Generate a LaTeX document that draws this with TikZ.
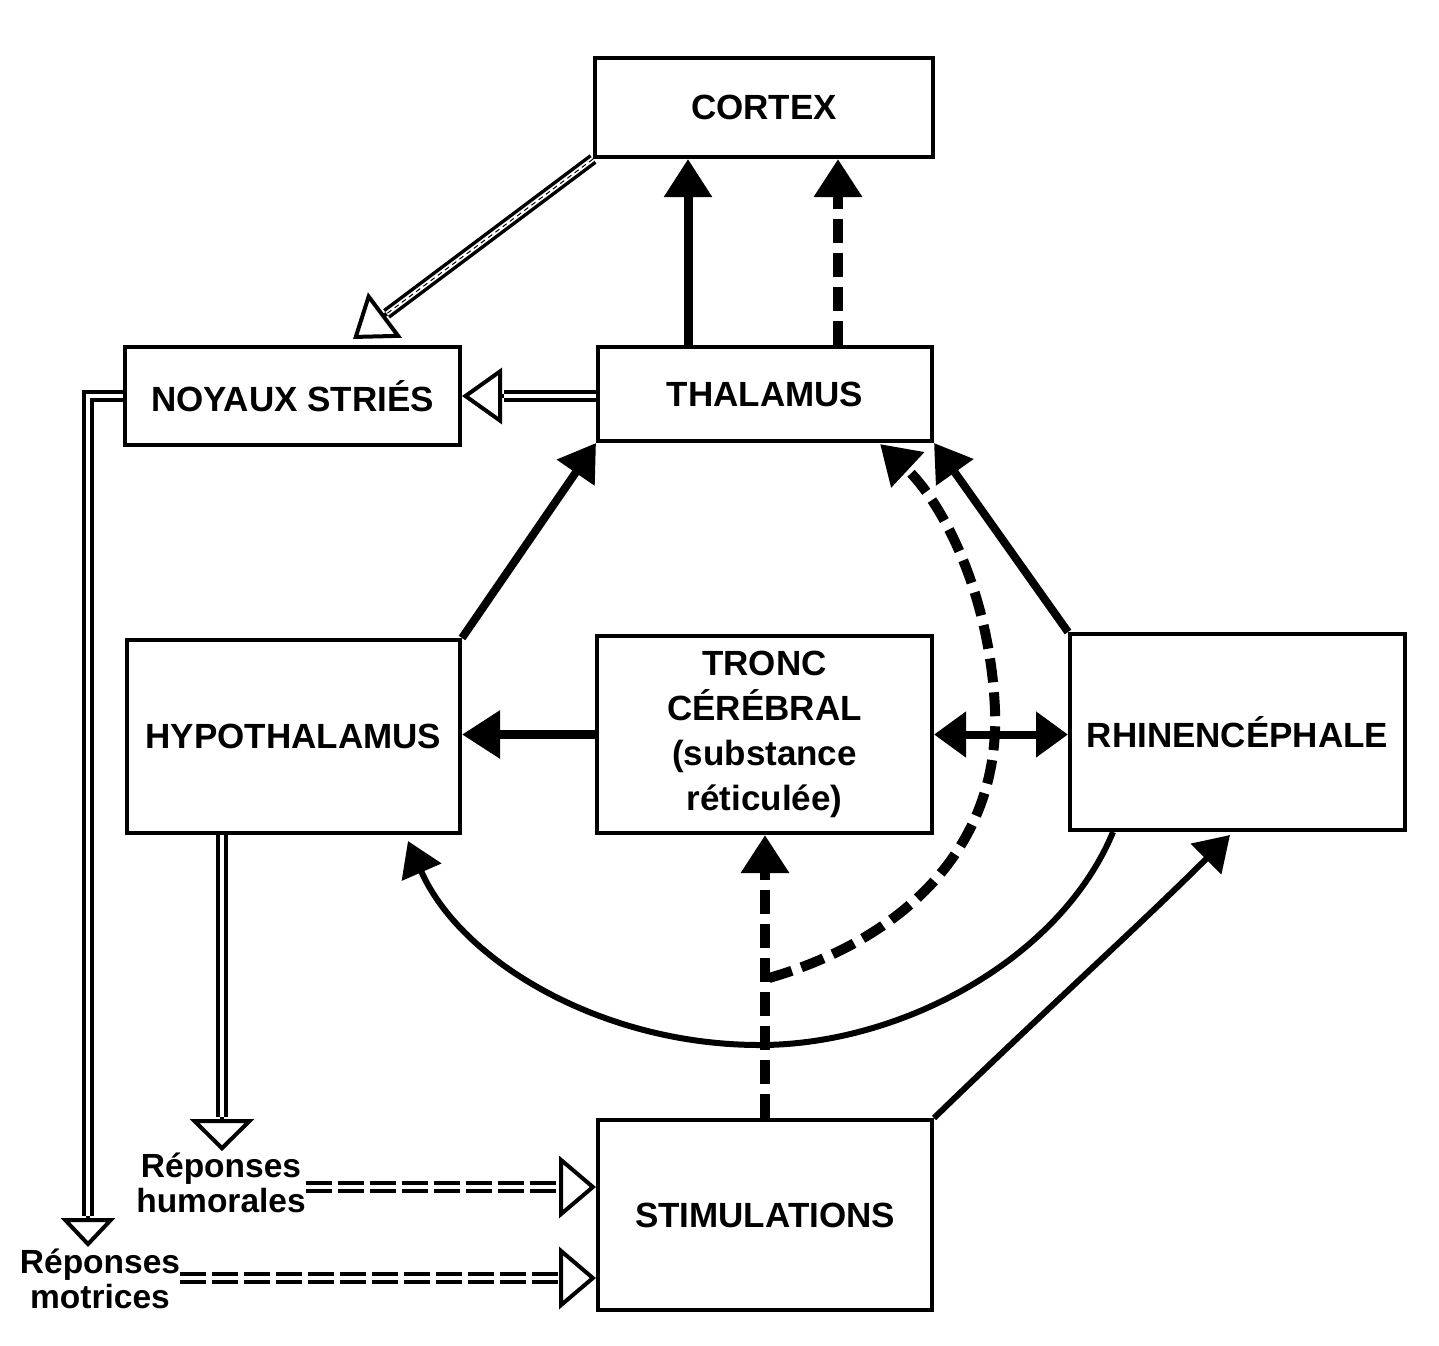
\documentclass[tikz,border=0pt]{standalone}
\usepackage{fontspec}
\newfontfamily\lab{Liberation Sans}
\usetikzlibrary{arrows.meta,calc}
\begin{document}
\begin{tikzpicture}[x=1pt,y=-1pt,
  box/.style={draw,line width=4pt,inner sep=0pt,align=center,
    font=\lab\bfseries\fontsize{35}{45}\selectfont},
  txt/.style={inner sep=0pt,align=center,font=\lab\bfseries\fontsize{33.5}{35}\selectfont},
  solidarr/.style={line width=9pt,-{Triangle[length=38pt,width=46pt]}},
  dasharr/.style={line width=10pt,dash pattern=on 24pt off 10pt,-{Triangle[length=38pt,width=46pt]}},
  midarr/.style={line width=8pt,-{Triangle[length=36pt,width=44pt]}},
  curvearr/.style={line width=6pt,-{Triangle[length=34pt,width=42pt]}},
  bothArr/.style={line width=8pt,{Triangle[length=32pt,width=44pt]}-{Triangle[length=32pt,width=44pt]}},
  dbl/.style={line width=3.5pt,double=white,double distance=4.5pt},
  dbldash/.style={dbl,dash pattern=on 26pt off 6pt},
  openhead/.style={line width=4pt,-{Triangle[open,length=40pt,width=56pt]}},
  openheadW/.style={line width=4pt,-{Triangle[open,length=37pt,width=62pt]}}
]
\useasboundingbox (0,0) rectangle (1439,1345);

% boxes
\node[box,minimum width=338pt,minimum height=99pt] (cor) at (764,107.5) {CORTEX};
\node[box,minimum width=335pt,minimum height=98pt] (noy) at (292.5,396) {NOYAUX STRIÉS};
\node[box,minimum width=334pt,minimum height=94pt] (thal) at (765,394) {THALAMUS};
\node[box,minimum width=333pt,minimum height=193pt] (hyp) at (293.5,736.5) {HYPOTHALAMUS};
\node[box,minimum width=335pt,minimum height=197pt] (tro) at (764.5,734.5)
  {TRONC\\CÉRÉBRAL\\(substance\\réticulée)};
\node[box,minimum width=335pt,minimum height=196pt] (rhin) at (1237.5,732) {RHINENCÉPHALE};
\node[box,minimum width=334pt,minimum height=190pt] (stim) at (765,1215) {STIMULATIONS};

% response labels
\node[txt] (hum) at (221,1183) {Réponses\\humorales};
\node[txt] (mot) at (100,1279) {Réponses\\motrices};

% thalamus -> cortex
\draw[solidarr] (688,0 |- thal.north) -- (688,0 |- cor.south);
\draw[dasharr] (838,0 |- thal.north) -- (838,0 |- cor.south);

% cortex -> noyaux stries (double)
\coordinate (cnTip) at ($(noy.north west)+(230,-6)$);
\coordinate (cnBase) at ($(cnTip)!42pt!(cor.south west)$);
\draw[dbl] (cor.south west) -- (cnBase);
\draw[line width=1pt,dash pattern=on 5pt off 4pt] (cor.south west) -- (cnBase);
\draw[openhead] (cnBase) -- (cnTip);

% thalamus -> noyaux stries (double)
\coordinate (tnBase) at ($(noy.east)+(42,0)$);
\draw[dbl] (thal.west |- noy.east) -- (tnBase);
\draw[openhead] (tnBase) -- (noy.east);

% noyaux -> reponses motrices
\coordinate (nmBase) at (88,1216);
\coordinate (nmTip) at (88,1247);
\draw[dbl] (noy.west) -| (nmBase);
\draw[line width=4pt,-{Triangle[open,length=29pt,width=54pt]}] (nmBase) -- (nmTip);

% hypothalamus -> reponses humorales
\coordinate (hhBase) at (222,1117);
\coordinate (hhTip) at (222,1151);
\draw[dbl] (222,0 |- hyp.south) -- (hhBase);
\draw[line width=4pt,-{Triangle[open,length=32pt,width=64pt]}] (hhBase) -- (hhTip);

% reponses -> stimulations
\coordinate (hsBase) at (561,1187);
\draw[dbldash] (hum.east |- hsBase) -- (hsBase);
\draw[openheadW] (hsBase) -- (stim.west |- hsBase);
\coordinate (msBase) at (561,1278);
\draw[dbldash] (mot.east |- msBase) -- (msBase);
\draw[openheadW] (msBase) -- (stim.west |- msBase);

% hypothalamus / rhinencephale -> thalamus
\draw[midarr] (hyp.north east) -- (thal.south west);
\draw[midarr] (rhin.north west) -- (thal.south east);

% tronc -> hypothalamus, tronc <-> rhinencephale
\draw[solidarr] (tro.west) -- (tro.west -| hyp.east);
\draw[bothArr] (tro.east) -- (tro.east -| rhin.west);

% stimulations -> tronc (dashed)
\draw[dasharr] (765,0 |- stim.north) -- (765,0 |- tro.south);
\coordinate (br) at (769,978);
\draw[dasharr] (br) .. controls (900,940) and (1000,850) .. (995,710)
  .. controls (990,590) and (940,500) .. (880,444);

% rhinencephale -> hypothalamus (curve)
\draw[curvearr] ($(rhin.south west)+(45,0)$) .. controls (1060,960) and (900,1045) .. (760,1045)
  .. controls (600,1045) and (460,960) .. ($(hyp.south east)+(-54,6)$);

% stimulations -> rhinencephale
\draw[curvearr] (stim.north east) .. controls (1040,1015) and (1140,925) .. ($(rhin.south west)+(162,3)$);
\end{tikzpicture}
\end{document}
